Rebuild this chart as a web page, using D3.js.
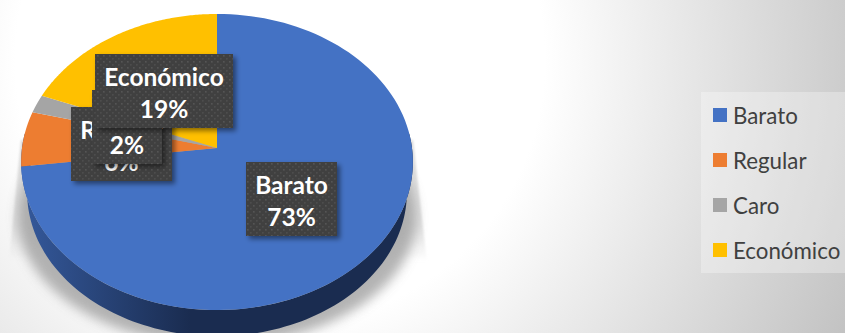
<!DOCTYPE html>
<html>
<head>
<meta charset="utf-8">
<script src="https://cdn.jsdelivr.net/npm/d3@7"></script>
<style>
html,body{margin:0;padding:0;background:#fff;overflow:hidden}
svg{display:block}
text{font-family:Lato,"Open Sans",sans-serif}
</style>
</head>
<body>
<svg id="chart" width="845" height="333"></svg>
<script>
const categories = ["Barato", "Regular", "Caro", "Económico"];
const shares = [73, 6, 2, 19];
const colors = ["#4472c4", "#ed7d31", "#a5a5a5", "#ffc000"];

const svg = d3.select("#chart");
const defs = svg.append("defs");

// Slide background: white centre falling off to grey in the corners
const bg = defs.append("radialGradient").attr("id", "bg")
  .attr("gradientUnits", "userSpaceOnUse")
  .attr("cx", 280).attr("cy", 60).attr("r", 630);
bg.append("stop").attr("offset", 0).attr("stop-color", "#ffffff");
bg.append("stop").attr("offset", 0.42).attr("stop-color", "#ffffff");
bg.append("stop").attr("offset", 1).attr("stop-color", "#c2c2c2");
svg.append("rect").attr("width", 845).attr("height", 333).attr("fill", "url(#bg)");

const addBlur = (id, sd) => defs.append("filter").attr("id", id)
  .attr("x", "-20%").attr("y", "-20%").attr("width", "140%").attr("height", "140%")
  .append("feGaussianBlur").attr("stdDeviation", sd);
addBlur("soft", 6);
addBlur("faint", 1.2);

const boxShadow = defs.append("filter").attr("id", "boxShadow")
  .attr("x", "-20%").attr("y", "-20%").attr("width", "140%").attr("height", "140%");
boxShadow.append("feDropShadow").attr("dx", 3).attr("dy", 3).attr("stdDeviation", 2.5)
  .attr("flood-color", "#000").attr("flood-opacity", 0.45);

const sideGrad = defs.append("linearGradient").attr("id", "side")
  .attr("gradientUnits", "userSpaceOnUse").attr("x1", 25).attr("x2", 190).attr("y1", 0).attr("y2", 0);
sideGrad.append("stop").attr("offset", 0).attr("stop-color", "#34589a");
sideGrad.append("stop").attr("offset", 1).attr("stop-color", "#1a2c50");

// The flared part of the ground shadow dissolves towards the bottom
const wedgeFade = defs.append("linearGradient").attr("id", "wedgeFade")
  .attr("gradientUnits", "userSpaceOnUse").attr("x1", 0).attr("x2", 0).attr("y1", 140).attr("y2", 262);
wedgeFade.append("stop").attr("offset", 0).attr("stop-color", "#dcdcdc");
wedgeFade.append("stop").attr("offset", 0.7).attr("stop-color", "#e2e2e2");
wedgeFade.append("stop").attr("offset", 1).attr("stop-color", "#e2e2e2").attr("stop-opacity", 0);

// Dot texture of the data label boxes
const dots = defs.append("pattern").attr("id", "dots")
  .attr("patternUnits", "userSpaceOnUse").attr("width", 6).attr("height", 6);
dots.append("rect").attr("width", 6).attr("height", 6).attr("fill", "#404040");
dots.append("rect").attr("x", 1).attr("y", 1).attr("width", 1.6).attr("height", 1.6).attr("fill", "#555555");
dots.append("rect").attr("x", 4).attr("y", 4).attr("width", 1.6).attr("height", 1.6).attr("fill", "#4d4d4d");

// Tilted disc: a homography of the unit circle, so the hub sits above the ellipse centre
const hub = {x: 217, y: 148};
const tilt = 0.0946;
const top3d = {a: 146.7, b: 195, dx: 0, dy: 0};
const base3d = {a: 142.3, b: 189, dx: 0, dy: 31};
const project = (theta, disc) => {
  const u = Math.sin(theta), v = Math.cos(theta), w = 1 + tilt * v;
  return [hub.x + disc.dx + disc.b * u / w, hub.y + disc.dy - disc.a * v / w];
};
const ringAngles = (a0, a1) => d3.range(0, 121).map(i => a0 + (a1 - a0) * i / 120);

const pie = d3.pie().sort(null).value(d => d);
const arcs = pie(shares);

// Ground shadow: a faint flared wedge beneath a denser soft pool
svg.append("path")
  .attr("d", d3.line()([[21, 140], [9, 262], [427, 262], [413, 140]]) + "Z")
  .attr("fill", "url(#wedgeFade)").attr("filter", "url(#faint)");
svg.append("ellipse").attr("cx", 217).attr("cy", 217).attr("rx", 199).attr("ry", 128)
  .attr("fill", "#a0a0a0").attr("opacity", 0.8).attr("filter", "url(#soft)");

// Rim of the disc, along its front half
const frontAngles = ringAngles(Math.PI * 0.5 - 0.1, Math.PI * 1.5 + 0.1);
const rim = d3.area()
  .x0(t => project(t, top3d)[0]).y0(t => project(t, top3d)[1])
  .x1(t => project(t, base3d)[0]).y1(t => project(t, base3d)[1]);
svg.append("path").attr("d", rim(frontAngles)).attr("fill", "url(#side)");

// Top face slices
const outline = d3.line();
svg.append("g").selectAll("path").data(arcs).join("path")
  .attr("d", d => outline([[hub.x, hub.y], ...ringAngles(d.startAngle, d.endAngle).map(t => project(t, top3d))]) + "Z")
  .attr("fill", (d, i) => colors[i]);

// Data labels, drawn in stacking order
const labelBoxes = [
  {i: 1, x: 71, y: 107, w: 101, h: 74},
  {i: 2, x: 92, y: 90, w: 70, h: 74},
  {i: 3, x: 95, y: 54, w: 138, h: 74},
  {i: 0, x: 246, y: 162, w: 91, h: 74}
];
const labels = svg.append("g").selectAll("g").data(labelBoxes).join("g");
labels.append("rect")
  .attr("x", d => d.x).attr("y", d => d.y).attr("width", d => d.w).attr("height", d => d.h)
  .attr("fill", "url(#dots)").attr("filter", "url(#boxShadow)");
labels.append("text").attr("text-anchor", "middle").attr("fill", "#fff")
  .attr("font-weight", 700).attr("font-size", 24.5)
  .attr("x", d => d.x + d.w / 2).attr("y", d => d.y + 32)
  .text(d => categories[d.i]);
labels.append("text").attr("text-anchor", "middle").attr("fill", "#fff")
  .attr("font-weight", 700).attr("font-size", 24.5)
  .attr("x", d => d.x + d.w / 2).attr("y", d => d.y + 64)
  .text(d => shares[d.i] + "%");

// Legend on a translucent panel
svg.append("rect").attr("x", 701).attr("y", 92).attr("width", 144).attr("height", 181)
  .attr("fill", "#fff").attr("opacity", 0.3);
const legendY = d3.scalePoint().domain(categories).range([115, 250]);
const legend = svg.append("g").selectAll("g").data(categories).join("g")
  .attr("transform", d => `translate(713,${legendY(d)})`);
legend.append("rect").attr("y", -7).attr("width", 14).attr("height", 14)
  .attr("fill", (d, i) => colors[i]);
legend.append("text").attr("x", 20).attr("y", 9).attr("font-size", 22.3).attr("fill", "#404040")
  .text(d => d);
</script>
</body>
</html>
